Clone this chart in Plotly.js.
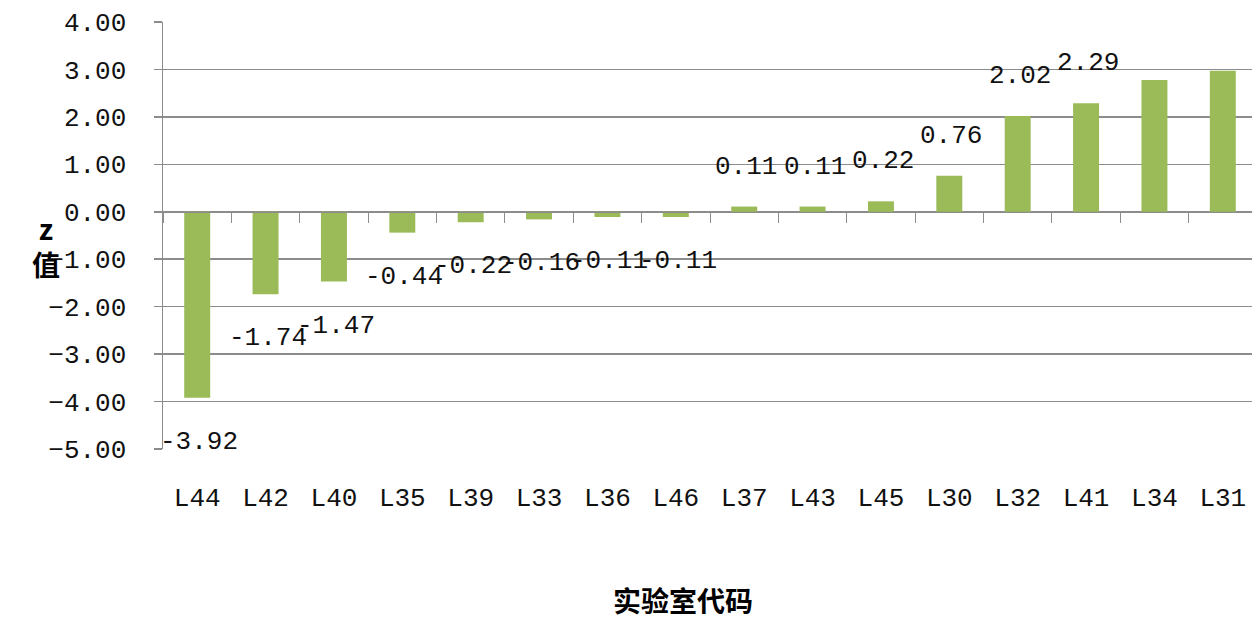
<!DOCTYPE html>
<html>
<head>
<meta charset="utf-8">
<script src="https://cdn.plot.ly/plotly-3.0.1.min.js"></script>
<style>html,body{margin:0;padding:0;overflow:hidden;background:#fff}</style>
</head>
<body>
<div id="chart"></div>
<script>
const labs = ["L44","L42","L40","L35","L39","L33","L36","L46","L37","L43","L45","L30","L32","L41","L34","L31"];
const zValues = [-3.92,-1.74,-1.47,-0.44,-0.22,-0.16,-0.11,-0.11,0.11,0.11,0.22,0.76,2.02,2.29,2.78,2.97];
const labelShown = [true,true,true,true,true,true,true,true,true,true,true,true,true,true,false,false];
const yTicks = [-5,-4,-3,-2,-1,0,1,2,3,4];
const xTitle = "实验室代码";
const yTitle = "z<br>值";

const mono = "Liberation Mono, DejaVu Sans Mono, monospace";
const gray = "#8c8c8c";

const traces = [
  {type:"bar", x:labs, y:zValues, marker:{color:"#9BBB59"}, hoverinfo:"x+y", xaxis:"x", yaxis:"y"},
  {type:"bar", x:labs, y:zValues, marker:{color:"rgba(0,0,0,0)"}, hoverinfo:"skip", xaxis:"x2", yaxis:"y", showlegend:false}
];

const annotations = [];
labs.forEach((c,i)=>{
  if(!labelShown[i]) return;
  const v = zValues[i];
  annotations.push({x:c, y:v, xref:"x", yref:"y", text:v.toFixed(2), showarrow:false,
    yshift: v<0 ? -44 : 40, xshift:2, font:{family:mono, size:26, color:"#111"}});
});
annotations.push({xref:"paper", yref:"paper", x:0.475, y:-0.405, text:xTitle, showarrow:false,
  font:{family:"Noto Sans CJK SC", size:28, color:"#000", weight:"bold"}});
annotations.push({xref:"paper", yref:"paper", x:-0.122, y:0.475, text:yTitle, showarrow:false,
  font:{family:"Noto Sans CJK SC", size:28, color:"#000", weight:"bold"}});

const layout = {
  width:1257, height:621,
  margin:{l:163, r:0, t:22, b:172},
  paper_bgcolor:"#fff", plot_bgcolor:"#fff",
  showlegend:false, bargap:0.62,
  xaxis:{type:"category", range:[-0.5,15.5], showline:false, ticks:"", showgrid:false, zeroline:false,
    tickfont:{family:mono, size:26, color:"#111"}, ticklabelstandoff:30, fixedrange:true},
  xaxis2:{type:"category", overlaying:"x", matches:"x", anchor:"free", position:5/9, showline:true,
    linecolor:gray, linewidth:1.5, ticks:"outside", ticklen:10, tickcolor:gray, tickson:"boundaries",
    showticklabels:false, showgrid:false, zeroline:false},
  yaxis:{range:[-5,4], tickvals:yTicks, tickformat:".2f", showgrid:true, gridcolor:gray, gridwidth:1.5,
    zeroline:false, showline:true, linecolor:gray, linewidth:1.5, ticks:"outside", ticklen:8, tickcolor:gray,
    tickwidth:1.5, ticklabelstandoff:22, tickfont:{family:mono, size:26, color:"#111"}},
  annotations:annotations
};
Plotly.newPlot("chart", traces, layout, {displayModeBar:false, staticPlot:true});
</script>
</body>
</html>
